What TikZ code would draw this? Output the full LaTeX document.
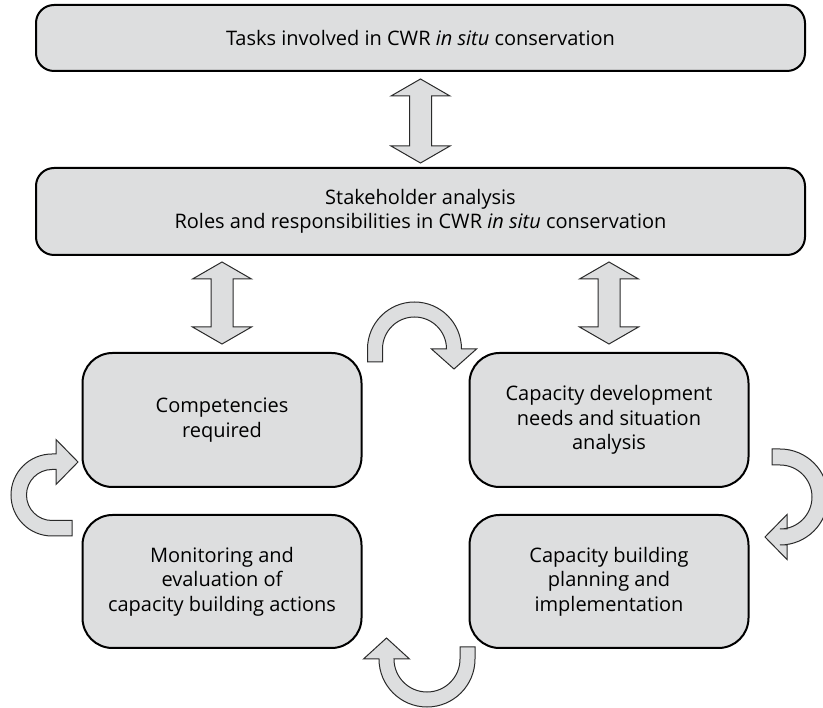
\documentclass[tikz,border=0pt]{standalone}
\usepackage{fontspec}
\setmainfont{Open Sans}
\usetikzlibrary{calc}
\definecolor{boxfill}{HTML}{DDDEDF}
\definecolor{arrline}{HTML}{2A2A2A}
\tikzset{
  bigbox/.style={draw=black, line width=2pt, fill=boxfill, rounded corners=18pt,
    align=center, inner sep=0pt, font=\fontsize{20}{24.5}\selectfont},
  cellbox/.style={bigbox, rounded corners=30pt, minimum width=279pt, minimum height=134pt},
  widebox/.style={bigbox, minimum width=769pt},
  fatarrow/.style={draw=arrline, line width=1pt, fill=boxfill, line join=miter}
}
\newcommand\dblarr[2]{%
  \draw[fatarrow] let \p1=#1, \p2=#2 in
    (\x1,\y1) -- (\x1+29.5pt,\y1-17pt) -- (\x1+11pt,\y1-17pt) -- (\x1+11pt,\y2+17pt)
    -- (\x1+29.5pt,\y2+17pt) -- (\x1,\y2) -- (\x1-29.5pt,\y2+17pt) -- (\x1-11pt,\y2+17pt)
    -- (\x1-11pt,\y1-17pt) -- (\x1-29.5pt,\y1-17pt) -- cycle;}
\begin{document}
\begin{tikzpicture}[x=1pt,y=-1pt]
\useasboundingbox (0,0) rectangle (823,708);
% boxes
\node[widebox, minimum height=66pt] (tasks) at (420.5,38) {Tasks involved in CWR \textit{in situ} conservation};
\node[widebox, minimum height=87pt] (stake) at (420.5,211.5) {Stakeholder analysis\\Roles and responsibilities in CWR \textit{in situ} conservation};
\node[cellbox] (comp) at (222,420) {Competencies\\required};
\node[cellbox] (capdev) at (609,420) {Capacity development\\needs and situation\\analysis};
\node[cellbox, minimum height=133pt] (monit) at (222,581.5) {Monitoring and\\evaluation of\\capacity building actions};
\node[cellbox, minimum height=133pt] (capbuild) at (609,581.5) {Capacity building\\planning and\\implementation};
% double arrows
\dblarr{($(tasks.south)+(0,7)$)}{($(stake.north)+(0,-4)$)}
\dblarr{($(stake.south -| comp.north)+(0,6)$)}{($(comp.north)+(0,-8)$)}
\dblarr{($(stake.south -| capdev.north)+(0,6)$)}{($(capdev.north)+(0,-8)$)}
% curved arrows
% top: competencies -> capacity development
\draw[fatarrow] (367.5,362) -- (367.5,349) arc[start angle=180,end angle=0,radius=47pt]
  -- (476.5,349) -- (454,369) -- (431.5,349) -- (446.5,349)
  arc[start angle=0,end angle=180,radius=32pt] -- (382.5,362) -- cycle;
% right: capacity development -> capacity building
\draw[fatarrow] (772,449) -- (780,449) arc[start angle=90,end angle=-90,radius=48pt]
  -- (787,545) -- (787,559.5) -- (765,537) -- (787,514.5) -- (787,529) -- (780,529)
  arc[start angle=-90,end angle=90,radius=32pt] -- (772,465) -- cycle;
% bottom: capacity building -> monitoring
\draw[fatarrow] (475,647) -- (475,659) arc[start angle=0,end angle=-180,radius=48pt]
  -- (363.5,659) -- (386.5,638) -- (409.5,659) -- (394,659)
  arc[start angle=180,end angle=360,radius=33pt] -- (460,647) -- cycle;
% left: monitoring -> competencies
\draw[fatarrow] (72,536) -- (52,536) arc[start angle=270,end angle=90,radius=41pt]
  -- (56,454) -- (56,439.5) -- (78,462) -- (56,484.5) -- (56,469.5) -- (52,469.5)
  arc[start angle=90,end angle=270,radius=25.5pt] -- (72,520.5) -- cycle;
\end{tikzpicture}
\end{document}
